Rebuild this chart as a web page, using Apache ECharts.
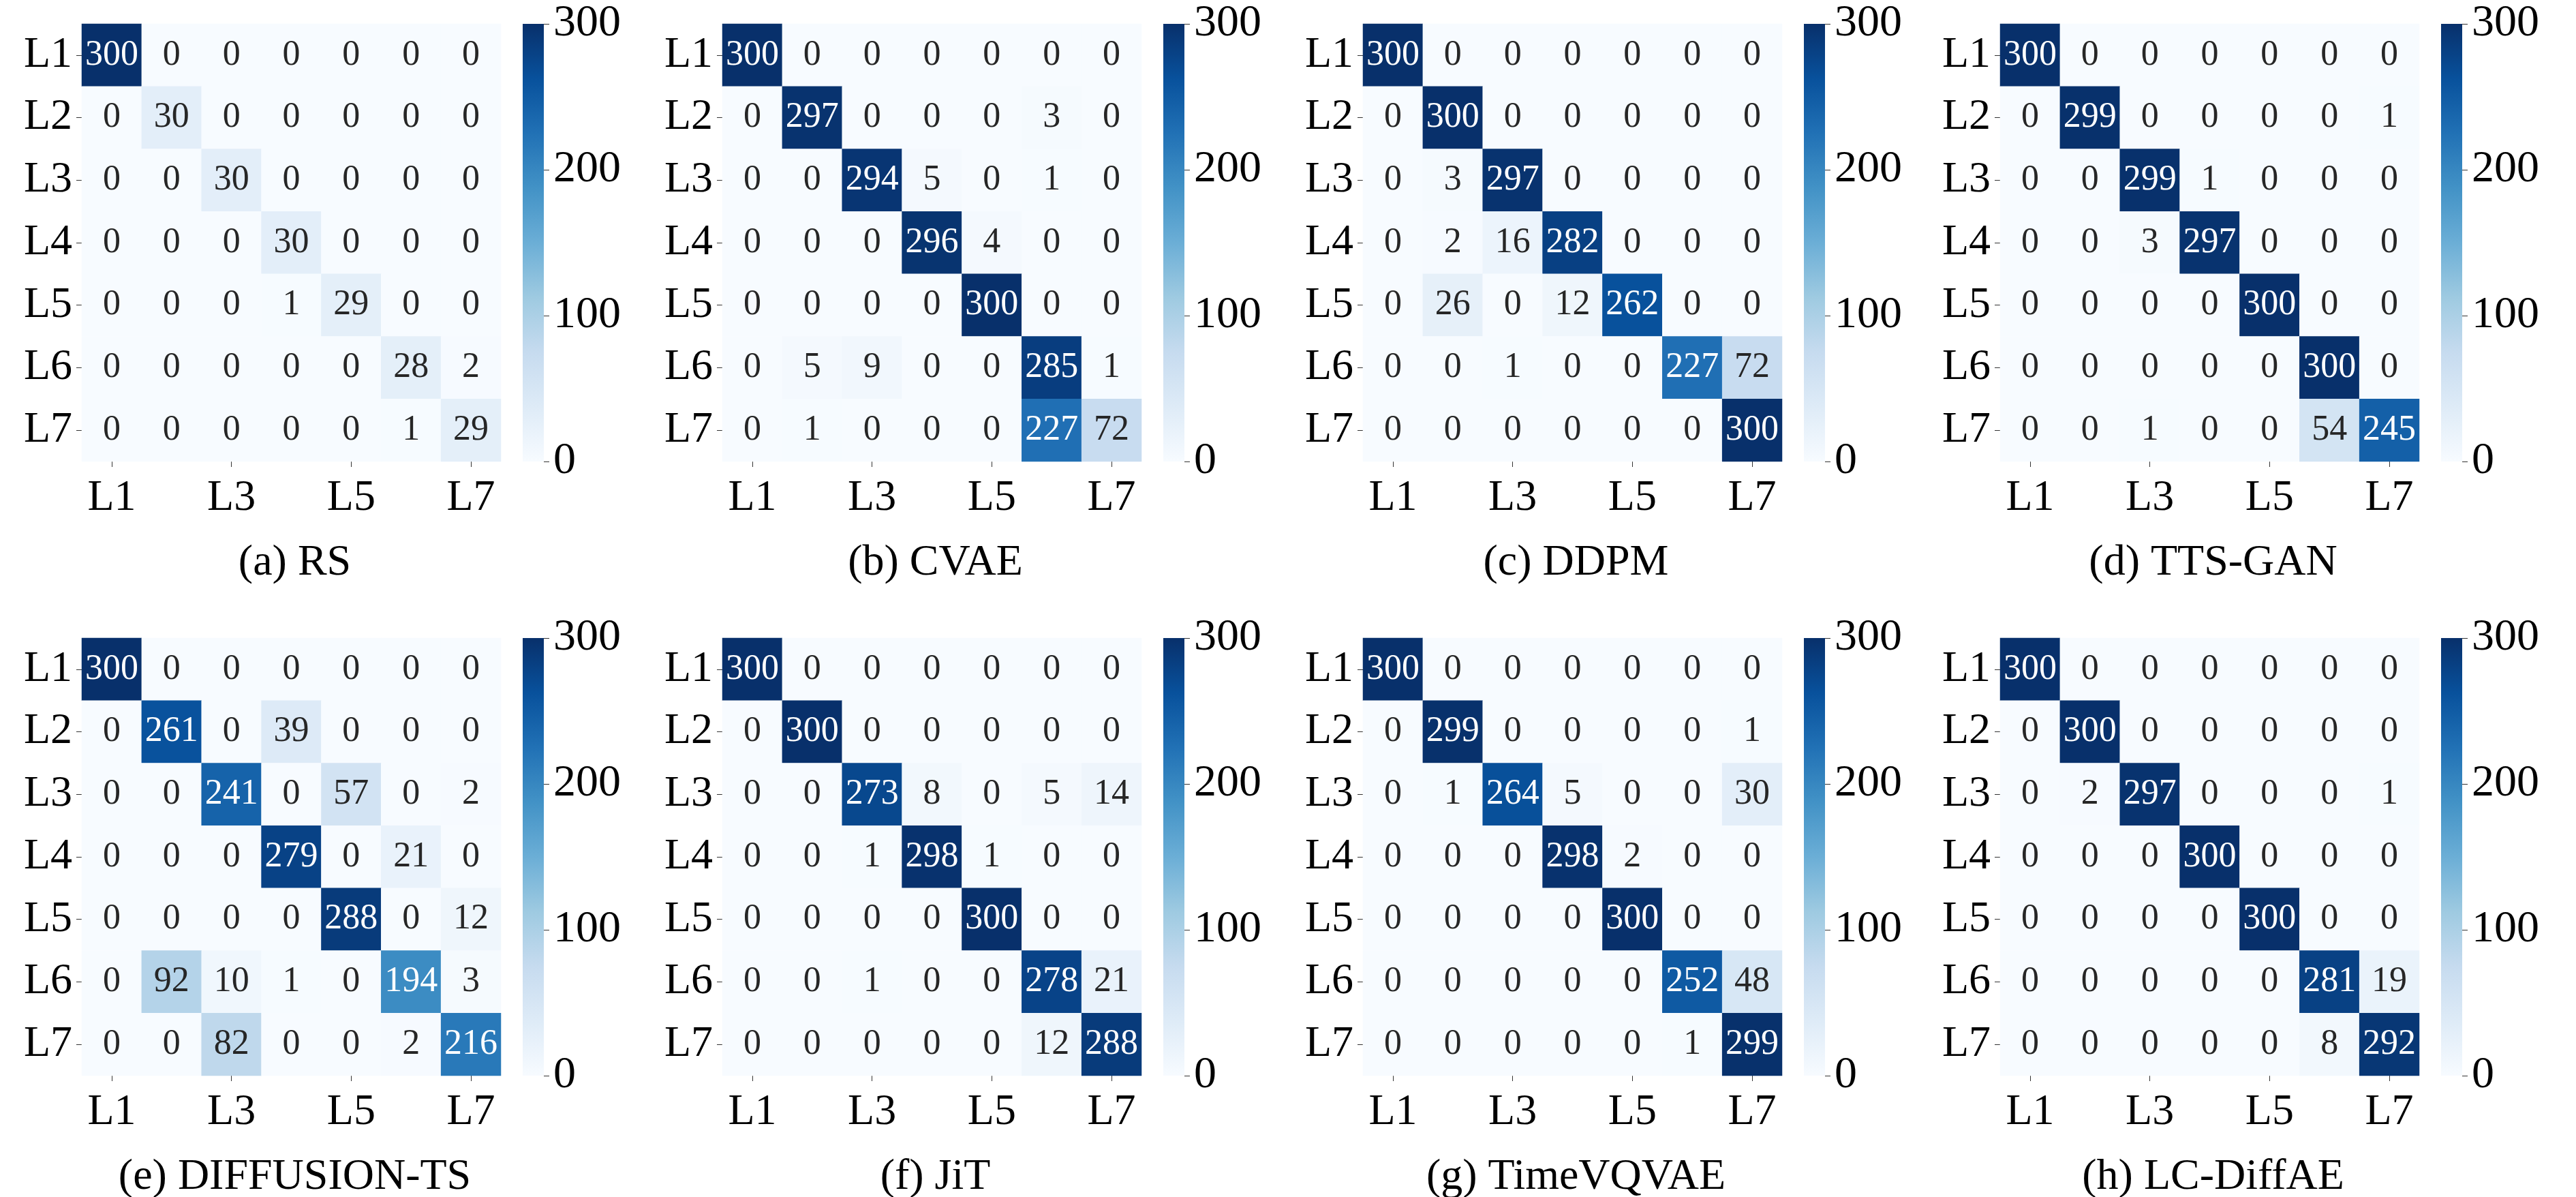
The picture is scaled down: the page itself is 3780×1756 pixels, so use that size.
<!DOCTYPE html>
<html lang="en">
<head>
<meta charset="UTF-8"/>
<script src="https://cdn.jsdelivr.net/npm/echarts@6/dist/echarts.min.js"></script>
<title>Confusion matrices</title>
<style>html,body{margin:0;padding:0;background:#fff}</style>
</head>
<body>
<div id="main" style="width:3780px;height:1756px;"></div>
<script type="text/javascript">
// labels
var labels = ['L1', 'L2', 'L3', 'L4', 'L5', 'L6', 'L7'];
var captions = ['(a) RS', '(b) CVAE', '(c) DDPM', '(d) TTS-GAN',
                '(e) DIFFUSION-TS', '(f) JiT', '(g) TimeVQVAE', '(h) LC-DiffAE'];
var cbTicks = [0, 100, 200, 300];

// confusion matrices (rows = true label, cols = predicted)
var mRS = [
    [300, 0, 0, 0, 0, 0, 0], [0, 30, 0, 0, 0, 0, 0], [0, 0, 30, 0, 0, 0, 0], [0, 0, 0, 30, 0, 0, 0],
    [0, 0, 0, 1, 29, 0, 0], [0, 0, 0, 0, 0, 28, 2], [0, 0, 0, 0, 0, 1, 29]];
var mCVAE = [
    [300, 0, 0, 0, 0, 0, 0], [0, 297, 0, 0, 0, 3, 0], [0, 0, 294, 5, 0, 1, 0], [0, 0, 0, 296, 4, 0, 0],
    [0, 0, 0, 0, 300, 0, 0], [0, 5, 9, 0, 0, 285, 1], [0, 1, 0, 0, 0, 227, 72]];
var mDDPM = [
    [300, 0, 0, 0, 0, 0, 0], [0, 300, 0, 0, 0, 0, 0], [0, 3, 297, 0, 0, 0, 0], [0, 2, 16, 282, 0, 0, 0],
    [0, 26, 0, 12, 262, 0, 0], [0, 0, 1, 0, 0, 227, 72], [0, 0, 0, 0, 0, 0, 300]];
var mTTSGAN = [
    [300, 0, 0, 0, 0, 0, 0], [0, 299, 0, 0, 0, 0, 1], [0, 0, 299, 1, 0, 0, 0], [0, 0, 3, 297, 0, 0, 0],
    [0, 0, 0, 0, 300, 0, 0], [0, 0, 0, 0, 0, 300, 0], [0, 0, 1, 0, 0, 54, 245]];
var mDiffTS = [
    [300, 0, 0, 0, 0, 0, 0], [0, 261, 0, 39, 0, 0, 0], [0, 0, 241, 0, 57, 0, 2], [0, 0, 0, 279, 0, 21, 0],
    [0, 0, 0, 0, 288, 0, 12], [0, 92, 10, 1, 0, 194, 3], [0, 0, 82, 0, 0, 2, 216]];
var mJiT = [
    [300, 0, 0, 0, 0, 0, 0], [0, 300, 0, 0, 0, 0, 0], [0, 0, 273, 8, 0, 5, 14], [0, 0, 1, 298, 1, 0, 0],
    [0, 0, 0, 0, 300, 0, 0], [0, 0, 1, 0, 0, 278, 21], [0, 0, 0, 0, 0, 12, 288]];
var mTimeVQVAE = [
    [300, 0, 0, 0, 0, 0, 0], [0, 299, 0, 0, 0, 0, 1], [0, 1, 264, 5, 0, 0, 30], [0, 0, 0, 298, 2, 0, 0],
    [0, 0, 0, 0, 300, 0, 0], [0, 0, 0, 0, 0, 252, 48], [0, 0, 0, 0, 0, 1, 299]];
var mLCDiffAE = [
    [300, 0, 0, 0, 0, 0, 0], [0, 300, 0, 0, 0, 0, 0], [0, 2, 297, 0, 0, 0, 1], [0, 0, 0, 300, 0, 0, 0],
    [0, 0, 0, 0, 300, 0, 0], [0, 0, 0, 0, 0, 281, 19], [0, 0, 0, 0, 0, 8, 292]];
var matrices = [mRS, mCVAE, mDDPM, mTTSGAN, mDiffTS, mJiT, mTimeVQVAE, mLCDiffAE];

var blues = ['#f7fbff', '#deebf7', '#c6dbef', '#9ecae1', '#6baed6', '#4292c6', '#2171b5', '#08519c', '#08306b'];
var FONT = 'Liberation Serif';

var lefts = [120, 1060, 2000, 2935];
var tops = [35, 936];
var W = 615, H = 642;

var grid = [], xAxis = [], yAxis = [], series = [], visualMap = [], title = [];

matrices.forEach(function (m, k) {
    var gl = lefts[k % 4], gt = tops[Math.floor(k / 4)];
    var g = grid.length;
    // heatmap grid
    grid.push({left: gl, top: gt, width: W, height: H});
    xAxis.push({
        type: 'category', data: labels, gridIndex: g,
        axisLine: {show: false}, splitLine: {show: false},
        axisTick: {show: true, alignWithLabel: true, length: 8, lineStyle: {color: '#333'}},
        axisLabel: {fontFamily: FONT, fontSize: 64, color: '#000', margin: 22}
    });
    yAxis.push({
        type: 'category', data: labels, gridIndex: g, inverse: true,
        axisLine: {show: false}, splitLine: {show: false},
        axisTick: {show: true, alignWithLabel: true, length: 8, lineStyle: {color: '#333'}},
        axisLabel: {fontFamily: FONT, fontSize: 64, color: '#000', margin: 14}
    });
    var data = [];
    m.forEach(function (row, i) {
        row.forEach(function (v, j) {
            data.push({value: [j, i, v], label: {color: v >= 150 ? '#fff' : '#262626'}});
        });
    });
    var si = series.length;
    series.push({
        type: 'heatmap', xAxisIndex: g, yAxisIndex: g, data: data,
        label: {show: true, fontFamily: FONT, fontSize: 52, formatter: function (p) { return p.value[2]; }},
        itemStyle: {borderWidth: 0}
    });
    visualMap.push({
        type: 'continuous', show: false, min: 0, max: 300, seriesIndex: si, dimension: 2,
        inRange: {color: blues}
    });

    // colorbar as a gradient bar on a value axis
    var c = grid.length;
    grid.push({left: gl + 647, top: gt, width: 31, height: H});
    xAxis.push({type: 'category', data: [''], gridIndex: c, show: false});
    yAxis.push({
        type: 'value', gridIndex: c, min: 0, max: 300, interval: 100, position: 'right',
        axisLine: {show: false}, splitLine: {show: false},
        axisTick: {show: true, length: 8, lineStyle: {color: '#333'}},
        axisLabel: {fontFamily: FONT, fontSize: 66, color: '#000', margin: 14,
            formatter: function (v) { return cbTicks.indexOf(v) >= 0 ? String(v) : ''; }}
    });
    series.push({
        type: 'bar', xAxisIndex: c, yAxisIndex: c, data: [300], barWidth: '100%', silent: true,
        itemStyle: {
            color: new echarts.graphic.LinearGradient(0, 1, 0, 0, blues.map(function (col, n) {
                return {offset: n / (blues.length - 1), color: col};
            }))
        }
    });

    title.push({
        text: captions[k], left: gl + W / 2, top: gt + H + 112, textAlign: 'center',
        textStyle: {fontFamily: FONT, fontSize: 64, fontWeight: 'normal', color: '#000'}
    });
});

var myChart = echarts.init(document.getElementById('main'));
myChart.setOption({
    backgroundColor: '#fff', animation: false,
    title: title, grid: grid, xAxis: xAxis, yAxis: yAxis, visualMap: visualMap, series: series
});
</script>
</body>
</html>
